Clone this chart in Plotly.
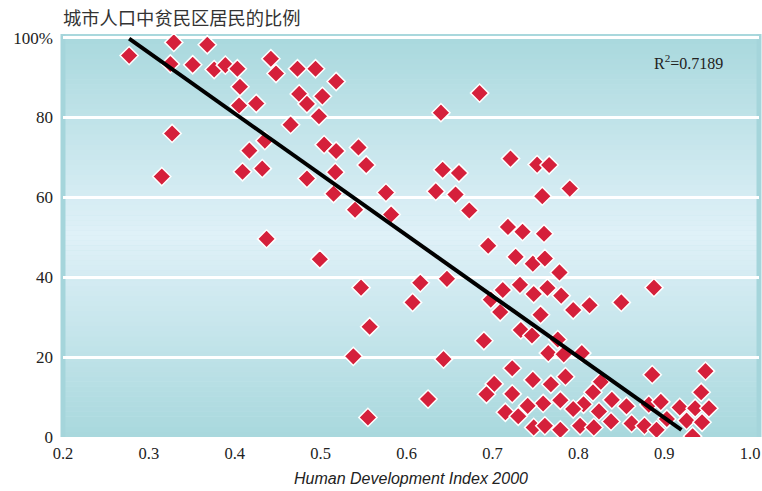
import numpy as np
import plotly.graph_objects as go

hdi = [0.277, 0.329, 0.368, 0.325, 0.351, 0.376, 0.389, 0.403, 0.442, 0.448,
       0.473, 0.494, 0.518, 0.406, 0.475, 0.484, 0.502, 0.405, 0.425, 0.465,
       0.498, 0.327, 0.435, 0.417, 0.504, 0.518, 0.544, 0.409, 0.432, 0.484,
       0.517, 0.315, 0.515, 0.540, 0.437, 0.685, 0.640, 0.553, 0.721, 0.752,
       0.766, 0.642, 0.661, 0.576, 0.634, 0.657, 0.758, 0.790, 0.582, 0.673,
       0.718, 0.735, 0.760, 0.695, 0.727, 0.747, 0.761, 0.778, 0.547, 0.616,
       0.647, 0.607, 0.712, 0.732, 0.748, 0.764, 0.780, 0.698, 0.794, 0.709,
       0.756, 0.813, 0.850, 0.888, 0.733, 0.746, 0.690, 0.776, 0.765, 0.783,
       0.804, 0.723, 0.785, 0.886, 0.948, 0.826, 0.702, 0.747, 0.768, 0.693,
       0.723, 0.817, 0.839, 0.779, 0.943, 0.806, 0.759, 0.741, 0.856, 0.794,
       0.882, 0.896, 0.918, 0.936, 0.952, 0.715, 0.730, 0.824, 0.903, 0.926,
       0.944, 0.748, 0.761, 0.779, 0.802, 0.818, 0.838, 0.862, 0.877, 0.891,
       0.933, 0.499, 0.557, 0.538, 0.643, 0.625, 0.555]

slum_share = [95.5, 98.8, 98.2, 93.4, 93.2, 92.0, 93.1, 92.2, 94.7, 91.0,
              92.2, 92.2, 89.0, 87.7, 85.9, 83.4, 85.3, 83.0, 83.5, 78.2,
              80.3, 76.0, 74.2, 71.7, 73.2, 71.6, 72.5, 66.4, 67.2, 64.7,
              66.3, 65.2, 60.9, 56.9, 49.6, 86.1, 81.2, 68.1, 69.7, 68.2,
              68.1, 66.9, 66.1, 61.2, 61.5, 60.7, 60.3, 62.2, 55.7, 56.7,
              52.6, 51.4, 50.9, 47.9, 45.1, 43.4, 44.7, 41.2, 37.4, 38.6,
              39.6, 33.7, 36.8, 38.1, 35.8, 37.3, 35.4, 34.4, 31.8, 31.3,
              30.6, 33.0, 33.7, 37.4, 26.8, 25.4, 24.1, 24.4, 21.0, 20.7,
              21.0, 17.2, 15.1, 15.6, 16.5, 13.8, 13.3, 14.3, 13.2, 10.7,
              10.8, 11.2, 9.3, 9.2, 11.2, 8.2, 8.4, 7.8, 7.7, 7.0,
              8.1, 8.8, 7.4, 7.2, 7.2, 6.2, 5.2, 6.4, 4.5, 4.1,
              3.7, 2.4, 2.8, 1.8, 2.8, 2.4, 3.9, 3.4, 2.8, 1.8,
              0.2, 44.5, 27.6, 20.2, 19.5, 9.5, 4.9]

# trend line
trend_x = [0.277, 0.92]
trend_intercept = 141.9
trend_slope = -152.3

y_ticks = [0, 20, 40, 60, 80, 100]
y_tick_labels = ["0", "20", "40", "60", "80", "100%"]
x_ticks = [0.2, 0.3, 0.4, 0.5, 0.6, 0.7, 0.8, 0.9, 1.0]
x_tick_labels = ["0.2", "0.3", "0.4", "0.5", "0.6", "0.7", "0.8", "0.9", "1.0"]
title_text = "城市人口中贫民区居民的比例"
x_title = "Human Development Index 2000"
r2_text = "R<sup>2</sup>=0.7189"

trend_y = [trend_intercept + trend_slope * v for v in trend_x]

Y_MAX = 100.9
X_MAX = 1.0103

# vertical gradient background as thin bands
edge = np.array([168, 216, 221])
mid = np.array([224, 241, 248])
shapes = []
n = 80
for i in range(n):
    y0 = Y_MAX * i / n
    y1 = Y_MAX * (i + 1) / n
    t = abs(((y0 + y1) / 2) / Y_MAX - 0.5) / 0.5
    c = mid + (edge - mid) * t
    shapes.append(dict(type="rect", xref="paper", yref="y", x0=0, x1=1,
                       y0=y0, y1=y1 + 0.05, layer="below", line_width=0,
                       fillcolor="rgb(%d,%d,%d)" % tuple(c.round())))
for xp in (0, 1):
    shapes.append(dict(type="line", xref="paper", yref="paper", x0=xp, x1=xp,
                       y0=0, y1=1, layer="below",
                       line=dict(color="rgb(165,213,219)", width=5)))

fig = go.Figure()
fig.add_trace(go.Scatter(
    x=hdi, y=slum_share, mode="markers",
    marker=dict(symbol="diamond", size=14, color="#d5203b",
                line=dict(color="white", width=1.5)),
    hoverinfo="x+y", showlegend=False))
fig.add_trace(go.Scatter(
    x=trend_x, y=trend_y, mode="lines",
    line=dict(color="black", width=4), showlegend=False, hoverinfo="skip"))

fig.update_layout(
    width=762, height=491,
    margin=dict(l=63, r=3, t=34, b=54),
    paper_bgcolor="white", plot_bgcolor="rgb(196,228,235)",
    shapes=shapes,
    font=dict(family="Liberation Serif, serif", size=16.5, color="#222"),
    xaxis=dict(range=[0.2, X_MAX], tickvals=x_ticks, ticktext=x_tick_labels,
               showgrid=False, zeroline=False, showline=False, ticks="",
               ticklabelstandoff=4,
               title=dict(text=x_title, standoff=11,
                          font=dict(family="Liberation Sans, Arial, sans-serif",
                                    size=16, style="italic", color="#222"))),
    yaxis=dict(range=[0, Y_MAX], tickvals=y_ticks, ticktext=y_tick_labels,
               showgrid=True, gridcolor="white", gridwidth=2.5, zeroline=False,
               showline=False, ticks="", ticklabelstandoff=9,
               tickfont=dict(size=17)),
    annotations=[
        dict(text=title_text, xref="paper", yref="paper", x=-0.003, y=1.0,
             xanchor="left", yanchor="bottom", yshift=2, showarrow=False,
             font=dict(family="Noto Sans CJK SC", size=18.3, color="#333")),
        dict(text=r2_text, xref="x", yref="y", x=0.928, y=93.9,
             xanchor="center", yanchor="middle", showarrow=False,
             font=dict(family="Liberation Serif, serif", size=16, color="#222")),
    ],
)
fig.write_html("out.html",
               config={"displayModeBar": False},
               post_script="document.body.style.margin='0';document.body.style.padding='0';")
